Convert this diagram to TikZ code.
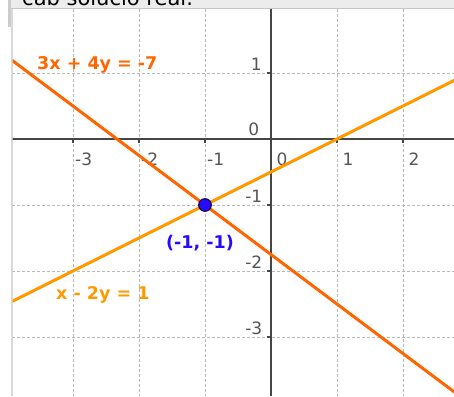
\documentclass[tikz,border=0pt]{standalone}
\usepackage{fontspec}
\setmainfont{DejaVu Sans}
\definecolor{lineA}{RGB}{255,102,0}
\definecolor{lineB}{RGB}{255,153,0}
\definecolor{ptblue}{RGB}{40,10,255}
\definecolor{axisgray}{RGB}{70,70,70}
\definecolor{gridgray}{RGB}{185,185,185}
\definecolor{labgray}{RGB}{85,85,85}
\definecolor{bandgray}{RGB}{236,236,236}
\begin{document}
\begin{tikzpicture}[x=1pt,y=-1pt,
  gridline/.style={gridgray, line width=1pt, dash pattern=on 3pt off 2pt},
  axisline/.style={axisgray, line width=1.5pt},
  ticklab/.style={labgray, font=\fontsize{17}{19}\selectfont, inner sep=0pt},
  eqline/.style={line width=3pt},
  eqlab/.style={font=\bfseries\fontsize{17.5}{19}\selectfont, inner sep=0pt, anchor=base west},
]
\useasboundingbox (0,0) rectangle (454,396);
\fill[white] (0,0) rectangle (454,396);
% top band
\fill[bandgray] (11,0) rectangle (454,8);
\draw[gray!45, line width=0.8pt] (11,8.4) -- (454,8.4);
\fill[gray!40] (8,0) rectangle (11,27);
\node[anchor=base west, inner sep=0pt, font=\fontsize{21}{24}\selectfont] (title) at (22,6) {cab solucio real.};
\draw[gray!30, line width=1.2pt] (12,9) -- (12,396);
\begin{scope}
\clip (12.6,9) rectangle (454,396);
% grid
\foreach \gx in {73,139,205,337,403} \draw[gridline] (\gx,9) -- (\gx,396);
\foreach \gy in {73,205,271,337} \draw[gridline] (12,\gy) -- (454,\gy);
% axes
\draw[axisline] (12,139) -- (454,139);
\draw[axisline] (271,9) -- (271,396);
\foreach \gx in {73,139,205,337,403} \draw[axisline] (\gx,139) -- (\gx,143);
\foreach \gy in {73,205,271,337} \draw[axisline] (267,\gy) -- (271,\gy);
% x labels
\node[ticklab, anchor=base west] (xm3) at (75,165.5) {-3};
\node[ticklab, anchor=base west] (xm2) at (141,165.5) {-2};
\node[ticklab, anchor=base west] (xm1) at (207,165.5) {-1};
\node[ticklab, anchor=base west] (x0) at (276.5,165.5) {0};
\node[ticklab, anchor=base west] (x1) at (342.5,165.5) {1};
\node[ticklab, anchor=base west] (x2) at (408.5,165.5) {2};
% y labels
\node[ticklab, anchor=base east] (y1) at (262,70) {1};
\node[ticklab, anchor=base east] (y0) at (259.5,135) {0};
\node[ticklab, anchor=base east] (ym1) at (262.5,202) {-1};
\node[ticklab, anchor=base east] (ym2) at (262.5,268) {-2};
\node[ticklab, anchor=base east] (ym3) at (262.5,334) {-3};
% lines
\coordinate (A1) at (7,56.5);
\coordinate (A2) at (469,403);
\coordinate (B1) at (7,304);
\coordinate (B2) at (469,73);
\draw[lineB, eqline] (B1) -- (B2);
\draw[lineA, eqline] (A1) -- (A2);
% point
\node[circle, fill=ptblue, draw={rgb,255:red,20;green,10;blue,80}, line width=1.2pt, minimum size=12.5pt, inner sep=0pt] (P) at (205,205) {};
% labels
\node[eqlab, lineA] (labA) at (37,69) {3x + 4y = -7};
\node[eqlab, lineB] (labB) at (56,299.5) {x - 2y = 1};
\node[eqlab, ptblue] (labP) at (166,248.5) {(-1, -1)};
\end{scope}
\end{tikzpicture}
\end{document}
